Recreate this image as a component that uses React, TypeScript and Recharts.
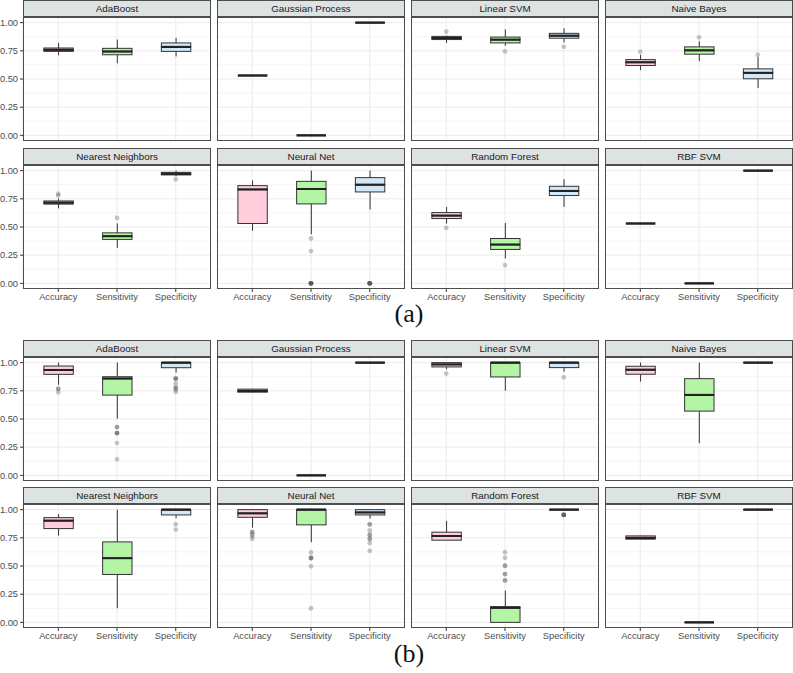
import React from 'react';
import { ComposedChart, Bar, Line, XAxis, YAxis, CartesianGrid } from 'recharts';

// min, lower hinge, median, upper hinge, max (whisker ends)
type Box = [number, number, number, number, number];

const metrics = ['Accuracy', 'Sensitivity', 'Specificity'];
const models = [
  'AdaBoost', 'Gaussian Process', 'Linear SVM', 'Naive Bayes',
  'Nearest Neighbors', 'Neural Net', 'Random Forest', 'RBF SVM',
];
const yTicks = [0, 0.25, 0.5, 0.75, 1];
const yMinor = [0.125, 0.375, 0.625, 0.875];
const fills = ['#ffcddc', '#b4f5a5', '#d2e8f8'];

// ---- (a) ----
const aAdaBoost: Box[] = [[0.71, 0.745, 0.76, 0.775, 0.82], [0.64, 0.715, 0.745, 0.772, 0.85], [0.7, 0.745, 0.785, 0.82, 0.865]];
const aAdaBoostOut = [[], [], []];
const aGaussian: Box[] = [[0.531, 0.531, 0.531, 0.531, 0.531], [0, 0, 0, 0, 0], [1, 1, 1, 1, 1]];
const aGaussianOut = [[], [], []];
const aLinearSvm: Box[] = [[0.82, 0.85, 0.864, 0.878, 0.885], [0.795, 0.82, 0.85, 0.872, 0.94], [0.825, 0.862, 0.885, 0.905, 0.95]];
const aLinearSvmOut = [[0.92], [0.745], [0.785]];
const aNaiveBayes: Box[] = [[0.578, 0.62, 0.649, 0.672, 0.715], [0.66, 0.72, 0.755, 0.785, 0.835], [0.42, 0.502, 0.555, 0.59, 0.695]];
const aNaiveBayesOut = [[0.742], [0.87], [0.715]];
const aNearest: Box[] = [[0.665, 0.703, 0.717, 0.731, 0.752], [0.315, 0.39, 0.419, 0.448, 0.532], [0.95, 0.962, 0.973, 0.985, 1]];
const aNearestOut = [[0.78, 0.795], [0.58], [0.923]];
const aNeuralNet: Box[] = [[0.466, 0.531, 0.834, 0.867, 0.914], [0.436, 0.705, 0.837, 0.905, 1], [0.655, 0.811, 0.876, 0.938, 1]];
const aNeuralNetOut = [[], [0.398, 0.286, 0, 0, 0, 0, 0, 0], [0, 0, 0, 0, 0, 0]];
const aRandomForest: Box[] = [[0.531, 0.575, 0.602, 0.628, 0.678], [0.221, 0.301, 0.345, 0.398, 0.536], [0.678, 0.779, 0.82, 0.861, 0.923]];
const aRandomForestOut = [[0.492], [0.162], []];
const aRbfSvm: Box[] = [[0.531, 0.531, 0.531, 0.531, 0.531], [0, 0, 0, 0, 0], [1, 1, 1, 1, 1]];
const aRbfSvmOut = [[], [], []];

// ---- (b) ----
const bAdaBoost: Box[] = [[0.803, 0.896, 0.935, 0.97, 1], [0.503, 0.712, 0.86, 0.875, 1], [0.912, 0.955, 1, 1, 1]];
const bAdaBoostOut = [[0.767, 0.767, 0.737], [0.428, 0.428, 0.375, 0.375, 0.375, 0.286, 0.142], [0.859, 0.859, 0.859, 0.815, 0.779, 0.779, 0.761, 0.74]];
const bGaussian: Box[] = [[0.735, 0.738, 0.75, 0.765, 0.768], [0, 0, 0, 0, 0], [1, 1, 1, 1, 1]];
const bGaussianOut = [[], [], []];
const bLinearSvm: Box[] = [[0.94, 0.962, 0.985, 1, 1], [0.75, 0.873, 1, 1, 1], [0.92, 0.956, 1, 1, 1]];
const bLinearSvmOut = [[0.903], [], [0.87]];
const bNaiveBayes: Box[] = [[0.832, 0.897, 0.938, 0.968, 1], [0.286, 0.57, 0.714, 0.858, 1], [1, 1, 1, 1, 1]];
const bNaiveBayesOut = [[], [], []];
const bNearest: Box[] = [[0.769, 0.832, 0.903, 0.929, 0.961], [0.125, 0.425, 0.57, 0.714, 1], [0.925, 0.953, 1, 1, 1]];
const bNearestOut = [[], [], [0.87, 0.823]];
const bNeuralNet: Box[] = [[0.84, 0.932, 0.968, 1, 1], [0.711, 0.865, 1, 1, 1], [0.92, 0.953, 0.976, 1, 1]];
const bNeuralNetOut = [[0.8, 0.8, 0.778, 0.763, 0.74], [0.62, 0.571, 0.571, 0.571, 0.497, 0.125], [0.87, 0.87, 0.815, 0.776, 0.776, 0.741, 0.741, 0.703, 0.634]];
const bRandomForest: Box[] = [[0.729, 0.729, 0.766, 0.8, 0.9], [0, 0, 0.13, 0.139, 0.282], [1, 1, 1, 1, 1]];
const bRandomForestOut = [[], [0.623, 0.573, 0.502, 0.502, 0.428, 0.428, 0.372, 0.372], [0.953, 0.953, 0.953, 0.953, 0.953]];
const bRbfSvm: Box[] = [[0.735, 0.738, 0.75, 0.767, 0.77], [0, 0, 0, 0, 0], [1, 1, 1, 1, 1]];
const bRbfSvmOut = [[], [], []];

const boxesA = [aAdaBoost, aGaussian, aLinearSvm, aNaiveBayes, aNearest, aNeuralNet, aRandomForest, aRbfSvm];
const outsA = [aAdaBoostOut, aGaussianOut, aLinearSvmOut, aNaiveBayesOut, aNearestOut, aNeuralNetOut, aRandomForestOut, aRbfSvmOut];
const boxesB = [bAdaBoost, bGaussian, bLinearSvm, bNaiveBayes, bNearest, bNeuralNet, bRandomForest, bRbfSvm];
const outsB = [bAdaBoostOut, bGaussianOut, bLinearSvmOut, bNaiveBayesOut, bNearestOut, bNeuralNetOut, bRandomForestOut, bRbfSvmOut];

const PW = 188; // panel width
const PH = 124; // panel height
const SH = 17; // strip height
const YW = 23;
const XH = 20;
const colX = [23, 217, 411, 605];
const FONT = '"Liberation Sans", Arial, sans-serif';

function buildRows(boxes: Box[], outs: number[][]) {
  const n = Math.max(0, ...outs.map((o) => o.length));
  const rows = metrics.map((m, i) => {
    const [mn, q1, md, q3, mx] = boxes[i];
    const row: any = { metric: m, idx: i, base: mn, wLow: q1 - mn, boxLow: md - q1, boxHigh: q3 - md, wHigh: mx - q3 };
    for (let k = 0; k < n; k++) row['o' + k] = outs[i][k] ?? null;
    return row;
  });
  return { rows, n };
}

const norm = (p: any) => {
  const y0 = Math.min(p.y, p.y + p.height);
  return { x: p.x, y: y0, w: p.width, h: Math.abs(p.height) };
};

const Whisker = (p: any) => {
  const { x, y, w, h } = norm(p);
  if (h <= 0) return <g />;
  return <line x1={x + w / 2} x2={x + w / 2} y1={y} y2={y + h} stroke="#333" strokeWidth={1} />;
};

const BoxLow = (p: any) => {
  const { x, y, w, h } = norm(p);
  const idx = p.payload?.idx ?? p.index;
  return (
    <g>
      {h > 0 && <rect x={x} y={y} width={w} height={h} fill={fills[idx]} stroke="#333" strokeWidth={1} />}
      <line x1={x} x2={x + w} y1={y} y2={y} stroke="#222" strokeWidth={2} />
    </g>
  );
};

const BoxHigh = (p: any) => {
  const { x, y, w, h } = norm(p);
  const idx = p.payload?.idx ?? p.index;
  return (
    <g>
      {h > 0 && <rect x={x} y={y} width={w} height={h} fill={fills[idx]} stroke="#333" strokeWidth={1} />}
      <line x1={x} x2={x + w} y1={y + h} y2={y + h} stroke="#222" strokeWidth={2} />
    </g>
  );
};

const OutDot = (p: any) => {
  if (p.value == null || p.cy == null || Number.isNaN(p.cy)) return <g key={`n${p.index}`} />;
  return <circle key={`d${p.index}`} cx={p.cx} cy={p.cy} r={2.4} fill="#3c4c4a" fillOpacity={0.3} />;
};

const YTick = (p: any) => {
  const { x, y, payload } = p;
  return (
    <text x={x} y={y} dy="0.355em" textAnchor="end" fontSize={9.3} fill="#4d4d4d" fontFamily={FONT}>
      {Number(payload.value).toFixed(2)}
    </text>
  );
};

interface PanelProps {
  name: string;
  boxes: Box[];
  outs: number[][];
  col: number;
  top: number;
  showY: boolean;
  showX: boolean;
}

const Panel: React.FC<PanelProps> = ({ name, boxes, outs, col, top, showY, showX }) => {
  const { rows, n } = buildRows(boxes, outs);
  const left = showY ? colX[col] - YW : colX[col];
  const w = PW + (showY ? YW : 0);
  const h = PH + (showX ? XH : 0);
  return (
    <>
      <div
        style={{
          position: 'absolute', left: colX[col], top, width: PW, height: SH, boxSizing: 'border-box',
          background: '#dde2e2', border: '1px solid #4d4d4d', display: 'flex', alignItems: 'center',
          justifyContent: 'center', fontFamily: FONT, fontSize: 9.8, color: '#1a1a1a',
        }}
      >
        {name}
      </div>
      <div style={{ position: 'absolute', left, top: top + SH }}>
        <ComposedChart width={w} height={h} data={rows} margin={{ top: 0, right: 0, bottom: 0, left: 0 }} barSize={29.4}>
          <CartesianGrid horizontalValues={yMinor} vertical={false} stroke="#f4f4f4" />
          <CartesianGrid horizontalValues={yTicks} stroke="#ebebeb" />
          <XAxis
            dataKey="metric"
            hide={!showX}
            height={XH}
            interval={0}
            padding={{ left: 5.875, right: 5.875 }}
            axisLine={false}
            tickSize={3}
            tickMargin={1.5}
            tickLine={{ stroke: '#333' }}
            tick={{ fontSize: 9.3, fill: '#4d4d4d', fontFamily: FONT }}
          />
          <YAxis
            type="number"
            domain={[-0.05, 1.05]}
            allowDataOverflow
            ticks={yTicks}
            interval={0}
            hide={!showY}
            width={YW}
            axisLine={false}
            tickSize={3}
            tickMargin={2}
            tickLine={{ stroke: '#333' }}
            tick={<YTick />}
          />
          <Bar dataKey="base" stackId="b" shape={() => <g />} isAnimationActive={false} />
          <Bar dataKey="wLow" stackId="b" shape={Whisker} isAnimationActive={false} />
          <Bar dataKey="boxLow" stackId="b" shape={BoxLow} isAnimationActive={false} />
          <Bar dataKey="boxHigh" stackId="b" shape={BoxHigh} isAnimationActive={false} />
          <Bar dataKey="wHigh" stackId="b" shape={Whisker} isAnimationActive={false} />
          {Array.from({ length: n }).map((_, k) => (
            <Line
              key={k}
              dataKey={'o' + k}
              stroke="none"
              dot={OutDot}
              activeDot={false}
              legendType="none"
              isAnimationActive={false}
            />
          ))}
        </ComposedChart>
      </div>
      <div
        style={{
          position: 'absolute', left: colX[col], top: top + SH, width: PW, height: PH,
          boxSizing: 'border-box', border: '1px solid #4d4d4d', pointerEvents: 'none',
        }}
      />
    </>
  );
};

const Figure: React.FC<{ boxes: Box[][]; outs: number[][][]; tops: number[] }> = ({ boxes, outs, tops }) => (
  <>
    {models.map((m, i) => {
      const row = Math.floor(i / 4);
      const col = i % 4;
      return (
        <Panel
          key={m}
          name={m}
          boxes={boxes[i]}
          outs={outs[i]}
          col={col}
          top={tops[row]}
          showY={col === 0}
          showX={row === 1}
        />
      );
    })}
  </>
);

const captionStyle: React.CSSProperties = {
  position: 'absolute', left: 359, width: 100, textAlign: 'center',
  fontFamily: '"Liberation Serif", "Times New Roman", serif', fontSize: 26, lineHeight: '26px', color: '#111',
};

export default function App() {
  return (
    <div style={{ position: 'absolute', left: 0, top: 0, width: 793, height: 673, background: '#fff', overflow: 'hidden' }}>
      <Figure boxes={boxesA} outs={outsA} tops={[0, 148]} />
      <div style={{ ...captionStyle, top: 301 }}>(a)</div>
      <Figure boxes={boxesB} outs={outsB} tops={[340, 487]} />
      <div style={{ ...captionStyle, top: 641 }}>(b)</div>
    </div>
  );
}
